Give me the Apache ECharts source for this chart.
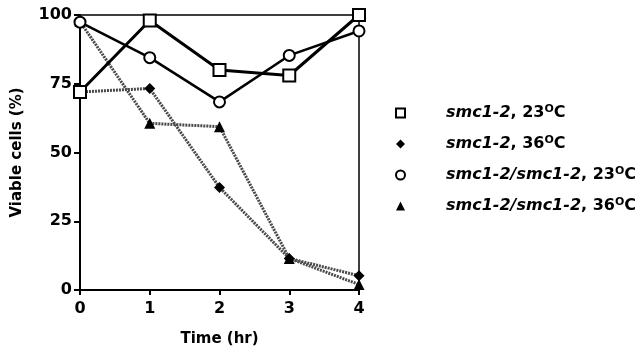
<!DOCTYPE html>
<html><head><meta charset="utf-8">
<script src="https://cdn.jsdelivr.net/npm/echarts@6/dist/echarts.min.js"></script>
<style>html,body{margin:0;padding:0;background:#fff}#c{width:642px;height:352px}</style>
</head><body><div id="c"></div>
<script>
const times = [0, 1, 2, 3, 4];
const yTicks = [0, 25, 50, 75, 100];
const seriesNames = ['smc1-2, 23°C', 'smc1-2, 36°C', 'smc1-2/smc1-2, 23°C', 'smc1-2/smc1-2, 36°C'];
const mutant23 = [72, 98, 80, 78, 100];
const mutant36 = [72, 73.3, 37.3, 11.5, 5.2];
const homo23 = [97.4, 84.5, 68.4, 85.3, 94.2];
const homo36 = [97.6, 60.6, 59.4, 11.5, 2];

const F = 'DejaVu Sans';
const pair = (vals) => times.map((t, i) => [t, vals[i]]);
const solid = { color: '#000', width: 3, type: 'solid' };
const dotted = { color: '#4a4a4a', width: 3, type: [2, 1] };

const chart = echarts.init(document.getElementById('c'));
chart.setOption({
  animation: false,
  backgroundColor: '#fff',
  grid: { left: 80, right: 283, top: 15, bottom: 56, show: true, borderColor: '#000', borderWidth: 1.5, backgroundColor: 'transparent' },
  xAxis: {
    type: 'value', min: 0, max: 4, interval: 1,
    name: 'Time (hr)', nameLocation: 'middle', nameGap: 42,
    nameTextStyle: { fontFamily: F, fontWeight: 'bold', fontSize: 15, color: '#000' },
    axisLine: { lineStyle: { color: '#000', width: 2 } },
    axisTick: { show: true, inside: false, length: 5, lineStyle: { color: '#000', width: 2 } },
    axisLabel: { fontFamily: F, fontWeight: 'bold', fontSize: 16, color: '#000', margin: 11 },
    splitLine: { show: false }
  },
  yAxis: {
    type: 'value', min: 0, max: 100, interval: 25,
    name: 'Viable cells (%)', nameLocation: 'middle', nameGap: 55, nameRotate: 90,
    nameTextStyle: { fontFamily: F, fontWeight: 'bold', fontSize: 15, color: '#000' },
    axisLine: { show: true, lineStyle: { color: '#000', width: 2 } },
    axisTick: { show: true, inside: false, length: 6, lineStyle: { color: '#000', width: 2 } },
    axisLabel: { fontFamily: F, fontWeight: 'bold', fontSize: 16, color: '#000', margin: 8,
      formatter: v => yTicks.includes(v) ? String(v) : '' },
    splitLine: { show: false }
  },
  legend: {
    orient: 'vertical', left: 390, top: 99, itemGap: 14,
    itemWidth: 9, itemHeight: 9,
    data: [
      { name: seriesNames[0], icon: 'rect', itemStyle: { color: '#fff', borderColor: '#000', borderWidth: 2 } },
      { name: seriesNames[1], icon: 'diamond', itemStyle: { color: '#000', borderWidth: 0 } },
      { name: seriesNames[2], icon: 'circle', itemStyle: { color: '#fff', borderColor: '#000', borderWidth: 2 } },
      { name: seriesNames[3], icon: 'triangle', itemStyle: { color: '#000', borderWidth: 0 } }
    ],
    formatter: function (name) {
      const m = name.match(/^(.*), (\d+)°C$/);
      return '{g|}{i|' + m[1] + '}{n|, ' + m[2] + '}{s|O}{n|C}';
    },
    textStyle: {
      color: '#000', fontFamily: F, fontSize: 16, fontWeight: 'bold',
      rich: {
        g: { width: 36 },
        i: { fontFamily: F, fontSize: 16, fontWeight: 'bold', fontStyle: 'italic', color: '#000', lineHeight: 18 },
        n: { fontFamily: F, fontSize: 16, fontWeight: 'bold', color: '#000', lineHeight: 18 },
        s: { fontFamily: F, fontSize: 11, fontWeight: 'bold', color: '#000', verticalAlign: 'top', lineHeight: 10 }
      }
    }
  },
  series: [
    { name: seriesNames[0], type: 'line', data: pair(mutant23), lineStyle: solid,
      symbol: 'rect', symbolSize: 12, itemStyle: { color: '#fff', borderColor: '#000', borderWidth: 2 }, z: 4 },
    { name: seriesNames[1], type: 'line', data: pair(mutant36), lineStyle: dotted,
      symbol: 'diamond', symbolSize: 11, itemStyle: { color: '#000', borderColor: '#000', borderWidth: 0 }, z: 3 },
    { name: seriesNames[2], type: 'line', data: pair(homo23), lineStyle: { color: '#000', width: 2.5 },
      symbol: 'circle', symbolSize: 11, itemStyle: { color: '#fff', borderColor: '#000', borderWidth: 2 }, z: 4 },
    { name: seriesNames[3], type: 'line', data: pair(homo36), lineStyle: dotted,
      symbol: 'triangle', symbolSize: 11, itemStyle: { color: '#000', borderColor: '#000', borderWidth: 0 }, z: 3 }
  ]
});
</script></body></html>
